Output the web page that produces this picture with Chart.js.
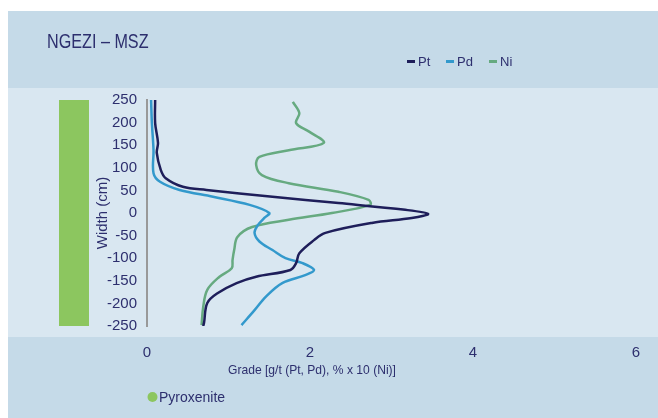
<!DOCTYPE html>
<html>
<head>
<meta charset="utf-8">
<script src="https://cdn.jsdelivr.net/npm/chart.js@4/dist/chart.umd.min.js"></script>
<style>
  html, body { margin: 0; padding: 0; background: #ffffff; }
  #wrap { width: 658px; height: 418px; position: relative; }
</style>
</head>
<body>
<div id="wrap"><canvas id="c" width="658" height="418"></canvas></div>
<script>
// ---- data ----
const chartTitle = 'NGEZI – MSZ';
const xAxisTitle = 'Grade [g/t (Pt, Pd), % x 10 (Ni)]';
const yAxisTitle = 'Width (cm)';
const seriesNames = ['Pt', 'Pd', 'Ni'];
const xTicks = [0, 2, 4, 6];
const yTicks = [250, 200, 150, 100, 50, 0, -50, -100, -150, -200, -250];

const depthPt = [250, 199, 155, 133, 95, 77, 58, 51, 36, 22, 7, -2, -11, -22, -44, -60, -89, -111, -126, -141, -155, -177, -199, -243, -250];
const pt      = [0.10, 0.10, 0.135, 0.12, 0.17, 0.23, 0.44, 0.73, 1.54, 2.35, 3.17, 3.45, 3.25, 2.76, 2.19, 2.05, 1.87, 1.83, 1.76, 1.34, 1.10, 0.87, 0.74, 0.70, 0.69];

const depthPd = [250, 199, 139, 88, 69, 51, 36, 18, 0, -11, -27, -44, -63, -82, -100, -111, -126, -137, -155, -185, -215, -248];
const pd      = [0.05, 0.06, 0.08, 0.08, 0.16, 0.40, 0.81, 1.26, 1.50, 1.44, 1.36, 1.32, 1.38, 1.54, 1.70, 1.91, 2.05, 1.95, 1.66, 1.46, 1.32, 1.16];

const depthNi = [246, 221, 199, 180, 155, 139, 124, 106, 84, 66, 47, 29, 18, 0, -15, -31, -53, -82, -104, -122, -141, -170, -208, -248];
const ni      = [1.79, 1.87, 1.83, 1.99, 2.17, 1.74, 1.38, 1.34, 1.41, 1.74, 2.35, 2.72, 2.74, 2.27, 1.74, 1.29, 1.11, 1.07, 1.05, 1.04, 0.89, 0.74, 0.69, 0.67];

const lithology = ['Pyroxenite'];
const lithoFrom = [-250];
const lithoTo = [250];

// ---- styles ----
const NAVY_TEXT = '#2d2f6e';
const colors = ['#1e1e5a', '#3399cc', '#66aa80'];
const lithoColor = '#8cc65f';
const headerBg = '#c5dae8';
const plotBg = '#d9e7f1';
const SANS = '"Liberation Sans", Arial, sans-serif';

function pts(ys, xs) { return ys.map((y, i) => ({ x: xs[i], y: y })); }

function narrowText(ctx, text, x, y, sx) {
  ctx.save();
  ctx.translate(x, y);
  ctx.scale(sx, 1);
  ctx.fillText(text, 0, 0);
  ctx.restore();
}

const decor = {
  id: 'decor',
  beforeDraw(chart) {
    const ctx = chart.ctx;
    ctx.save();
    ctx.fillStyle = '#ffffff';
    ctx.fillRect(0, 0, 658, 418);
    ctx.fillStyle = headerBg;
    ctx.fillRect(8, 11, 650, 407);
    ctx.fillStyle = plotBg;
    ctx.fillRect(8, 88, 650, 249);
    // lithology column
    const y = chart.scales.y;
    lithology.forEach((name, i) => {
      const top = y.getPixelForValue(lithoTo[i]);
      const bot = y.getPixelForValue(lithoFrom[i]);
      ctx.fillStyle = lithoColor;
      ctx.fillRect(59, top, 30, bot - top);
    });
    ctx.restore();
  },
  afterDraw(chart) {
    const ctx = chart.ctx;
    ctx.save();
    ctx.fillStyle = NAVY_TEXT;
    ctx.textBaseline = 'middle';
    // title
    ctx.textAlign = 'left';
    ctx.font = '21px ' + SANS;
    narrowText(ctx, chartTitle, 47, 42, 0.77);
    // x axis title
    ctx.textAlign = 'center';
    ctx.font = '13px ' + SANS;
    narrowText(ctx, xAxisTitle, 312, 370, 0.93);
    // series legend
    ctx.textAlign = 'left';
    ctx.font = '13px ' + SANS;
    const lx = [407, 446, 489];
    seriesNames.forEach((n, i) => {
      ctx.fillStyle = colors[i];
      ctx.fillRect(lx[i], 60, 8, 3);
      ctx.fillStyle = NAVY_TEXT;
      ctx.fillText(n, lx[i] + 11, 62);
    });
    // lithology legend
    ctx.font = '14px ' + SANS;
    lithology.forEach((n, i) => {
      ctx.fillStyle = lithoColor;
      ctx.beginPath();
      ctx.arc(152.5, 397, 5, 0, Math.PI * 2);
      ctx.fill();
      ctx.fillStyle = NAVY_TEXT;
      ctx.fillText(n, 159, 398);
    });
    ctx.restore();
  }
};

const ds = [pts(depthPt, pt), pts(depthPd, pd), pts(depthNi, ni)];

new Chart(document.getElementById('c'), {
  type: 'scatter',
  data: {
    datasets: seriesNames.map((n, i) => ({
      label: n,
      data: ds[i],
      showLine: true,
      borderColor: colors[i],
      backgroundColor: colors[i],
      borderWidth: 2.5,
      pointRadius: 0,
      tension: 0.35,
      fill: false
    }))
  },
  options: {
    responsive: false,
    animation: false,
    layout: { padding: { left: 8, right: 19, top: 100, bottom: 40 } },
    plugins: { legend: { display: false }, tooltip: { enabled: false } },
    scales: {
      x: {
        type: 'linear',
        min: xTicks[0], max: xTicks[xTicks.length - 1],
        afterBuildTicks(s) { s.ticks = xTicks.map(v => ({ value: v })); },
        grid: { display: false, drawTicks: false },
        border: { display: false },
        ticks: { color: NAVY_TEXT, font: { family: SANS, size: 15 }, padding: 18, maxRotation: 0 },
        title: { display: false },
        afterFit(s) { s.height = 52; }
      },
      y: {
        type: 'linear',
        min: -250, max: 250,
        afterBuildTicks(s) { s.ticks = yTicks.map(v => ({ value: v })); },
        grid: { display: false, drawTicks: false },
        border: { display: true, color: '#999999', width: 2 },
        ticks: { color: NAVY_TEXT, font: { family: SANS, size: 15 }, padding: 10, autoSkip: false },
        title: { display: true, text: yAxisTitle, color: NAVY_TEXT, font: { family: SANS, size: 15 }, padding: { top: 86, bottom: 0 } },
        afterFit(s) { s.width = 139; }
      }
    }
  },
  plugins: [decor]
});
</script>
</body>
</html>
